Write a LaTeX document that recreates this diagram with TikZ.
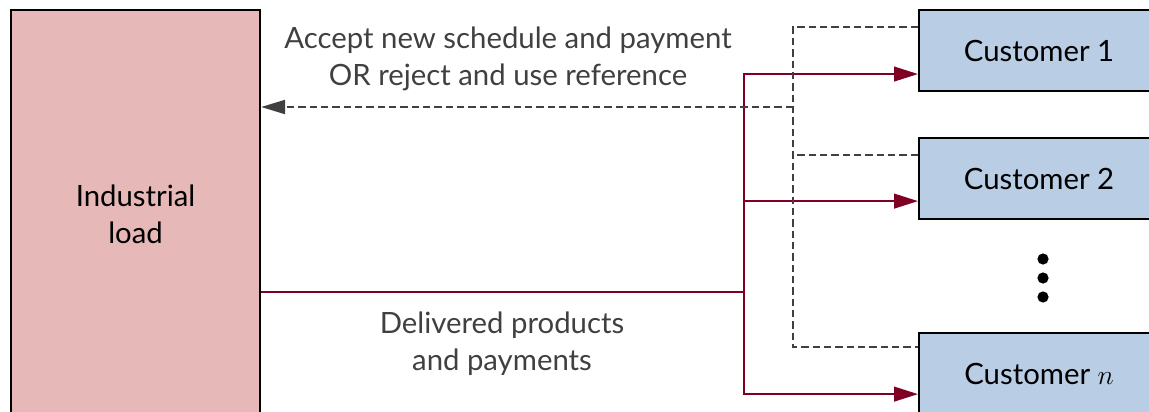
\documentclass[tikz,border=0pt]{standalone}
\usepackage{fontspec}
\setmainfont{Lato}
\usetikzlibrary{arrows.meta,calc}
\definecolor{loadfill}{HTML}{E6B8B7}
\definecolor{custfill}{HTML}{B9CDE5}
\definecolor{flowred}{HTML}{7F0022}
\definecolor{msggray}{HTML}{404040}
\begin{document}
\begin{tikzpicture}[x=0.75pt,y=-0.75pt,
  txt/.style={font=\fontsize{22}{28}\selectfont,align=center},
  block/.style={draw=black,line width=1.6pt,inner sep=0pt,anchor=north west,txt},
  loadbox/.style={block,fill=loadfill,minimum width=186.75pt,minimum height=306pt},
  custbox/.style={block,fill=custfill,minimum width=180pt,minimum height=60.75pt},
  flow/.style={draw=flowred,line width=1.6pt,-{Triangle[length=18pt,width=11pt]}},
  flowline/.style={draw=flowred,line width=1.6pt},
  reply/.style={draw=msggray,line width=1.6pt,dash pattern=on 5.5pt off 3pt},
  label/.style={txt,text=msggray}]
\useasboundingbox (0,0) rectangle (1149,411);
\clip (0,0) rectangle (1149,411);

% participants
\node[loadbox] (il) at (10,9) {Industrial\\load};
\node[custbox] (c1) at (918,9)   {Customer 1};
\node[custbox] (c2) at (918,137) {Customer 2};
\node[custbox] (cn) at (918,332) {Customer $n$};

% ellipsis between customers
\foreach \yy in {259,278,297} \fill (1043,\yy) circle (4.2pt);

% junctions of the two buses
\coordinate (j)  at (744,292);
\coordinate (dt) at (793,27);
\coordinate (db) at (793,347);
\coordinate (dm) at (793,107);
\coordinate (a1) at ([yshift=-17.6pt]c1.west);
\coordinate (a2) at ([yshift=-16.9pt]c2.west);
\coordinate (an) at ([yshift=-15.4pt]cn.west);

% deliveries and payments to the customers
\draw[flowline] (j -| il.east) -- (j);
\draw[flow] (j) |- (a1);
\draw[flow] (j) |- (an);
\draw[flow] (j |- a2) -- (a2);

% customer responses back to the load
\draw[reply] ([yshift=-13.5pt]c1.north west) -- (dt) -- (db) -- ([yshift=-11.25pt]cn.north west);
\draw[reply] ([yshift=-13.5pt]c2.north west) -- ++(-125,0);
\draw[reply,-{Triangle[length=18pt,width=10.5pt]},msggray] (dm) -- (dm -| il.east);

% flow labels
\node[label] (acc) at (508,59) {Accept new schedule and payment\\OR reject and use reference};
\node[label] (del) at (502,344) {Delivered products\\and payments};
\end{tikzpicture}
\end{document}
